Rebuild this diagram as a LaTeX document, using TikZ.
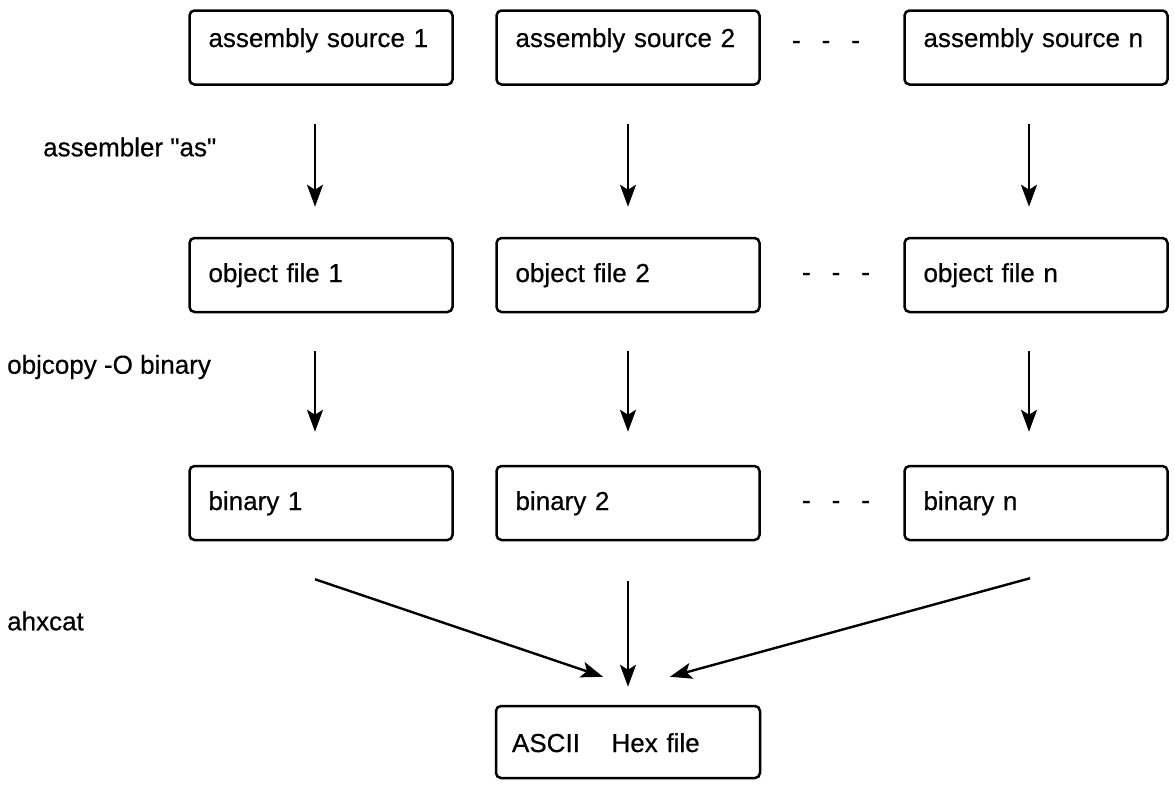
\documentclass[tikz,border=0pt]{standalone}
\usepackage{fontspec}
\setmainfont{Liberation Sans}[FakeBold=0.5]
\usetikzlibrary{arrows.meta}
\tikzset{
  stage/.style={draw, line width=2.5pt, rounded corners=5pt,
    minimum height=74pt, text width=225pt, inner xsep=19pt, inner ysep=0pt,
    align=left, text height=19pt, text depth=5pt,
    font=\fontsize{26}{30}\selectfont},
  toollabel/.style={anchor=west, inner sep=0pt, font=\fontsize{26}{30}\selectfont},
  flow/.style={line width=2.4pt, -{Stealth[length=22pt,width=16pt,inset=5pt]}},
  ellipsis/.style={inner sep=0pt, font=\fontsize{26}{30}\selectfont}
}
\newcommand{\dashrow}{-\hspace{21pt}-\hspace{21pt}-}
\begin{document}
\begin{tikzpicture}[x=1pt,y=-1pt]
\useasboundingbox (0,0) rectangle (1175,785);

% source files
\node[stage] (as1) at (321,47.5) {\raisebox{7.5pt}{assembly source 1}};
\node[stage] (as2) at (628,47.5) {\raisebox{7.5pt}{assembly source 2}};
\node[stage] (asn) at (1036,47.5) {\raisebox{7.5pt}{assembly source n}};

% object files
\node[stage] (ob1) at (321,275) {object file 1};
\node[stage] (ob2) at (628,275) {object file 2};
\node[stage] (obn) at (1036,275) {object file n};

% raw binaries
\node[stage] (bi1) at (321,503) {binary 1};
\node[stage] (bi2) at (628,503) {binary 2};
\node[stage] (bin) at (1036,503) {binary n};

% final image
\node[stage, text width=232pt, inner xsep=16pt, minimum height=72pt] (hex) at (628,742) {\raisebox{-3pt}{ASCII\hspace{23pt} Hex file}};

% ellipses between columns
\node[ellipsis] (d1) at (826,45)  {\dashrow};
\node[ellipsis] (d2) at (836,277) {\dashrow};
\node[ellipsis] (d3) at (836,505) {\dashrow};

% tool names
\node[toollabel] (t1) at (43,147) {assembler \textquotedbl as\textquotedbl};
\node[toollabel] (t2) at (7,367)  {objcopy -O binary};
\node[toollabel] (t3) at (7,621)  {ahxcat};

% assembling
\draw[flow, shorten <=38pt, shorten >=30pt] ([xshift=-6pt]as1.south) -- ([xshift=-6pt]ob1.north);
\draw[flow, shorten <=38pt, shorten >=30pt] (as2.south) -- (ob2.north);
\draw[flow, shorten <=38pt, shorten >=30pt] ([xshift=-7pt]asn.south) -- ([xshift=-7pt]obn.north);

% converting to binary
\draw[flow, shorten <=38pt, shorten >=33pt] ([xshift=-6pt]ob1.south) -- ([xshift=-6pt]bi1.north);
\draw[flow, shorten <=38pt, shorten >=33pt] (ob2.south) -- (bi2.north);
\draw[flow, shorten <=38pt, shorten >=33pt] ([xshift=-7pt]obn.south) -- ([xshift=-7pt]bin.north);

% merging into the hex file
\draw[flow] ([xshift=-6pt,yshift=-38pt]bi1.south) -- ([xshift=-25pt,yshift=28pt]hex.north);
\draw[flow] ([yshift=-40pt]bi2.south) -- ([yshift=18pt]hex.north);
\draw[flow] ([xshift=-6pt,yshift=-37pt]bin.south) -- ([xshift=42pt,yshift=28pt]hex.north);
\end{tikzpicture}
\end{document}
